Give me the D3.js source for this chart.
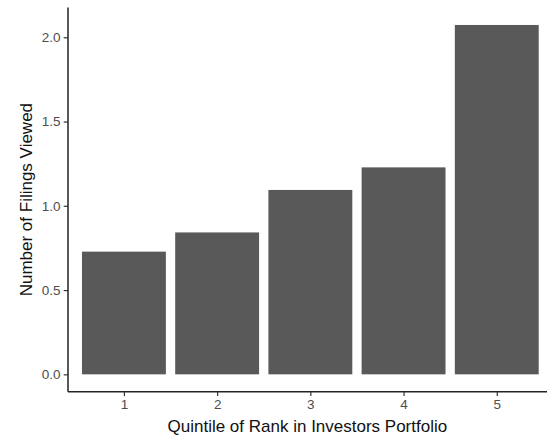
<!DOCTYPE html>
<html>
<head>
<meta charset="utf-8">
<script src="https://cdn.jsdelivr.net/npm/d3@7"></script>
<style>
  body { margin: 0; background: #fff; }
  svg { display: block; font-family: "Liberation Sans", Arial, sans-serif; }
</style>
</head>
<body>
<div id="chart"></div>
<script>
// data
var quintiles = ['1', '2', '3', '4', '5'];
var filingsViewed = [0.728, 0.842, 1.094, 1.228, 2.073];
var yTicks = [0.0, 0.5, 1.0, 1.5, 2.0];

var W = 547, H = 437;
// panel edges in pixels
var panel = { left: 68, top: 7.5, bottom: 391.8, right: 552.7 };

var svg = d3.select('#chart')
  .append('svg')
  .attr('width', W)
  .attr('height', H);

// ggplot-like discrete scale: 0.6 units of padding each side
var x = d3.scaleLinear()
  .domain([0.4, 5.6])
  .range([panel.left, panel.right]);

var yMax = d3.max(filingsViewed);
var y = d3.scaleLinear()
  .domain([-0.05 * yMax, yMax * 1.05])
  .range([panel.bottom, panel.top]);

var barW = x(1.45) - x(0.55);

// bars
svg.append('g')
  .selectAll('rect')
  .data(filingsViewed)
  .enter()
  .append('rect')
  .attr('x', function (d, i) { return x(i + 1) - barW / 2; })
  .attr('width', barW)
  .attr('y', function (d) { return y(d); })
  .attr('height', function (d) { return y(0) - y(d); })
  .attr('fill', '#595959');

// y axis
var yAxis = svg.append('g')
  .attr('transform', 'translate(' + panel.left + ',0)')
  .call(d3.axisLeft(y)
    .tickValues(yTicks)
    .tickFormat(d3.format('.1f'))
    .tickSize(4.3)
    .tickPadding(3.2));

// x axis
var xAxis = svg.append('g')
  .attr('transform', 'translate(0,' + panel.bottom + ')')
  .call(d3.axisBottom(x)
    .tickValues([1, 2, 3, 4, 5])
    .tickFormat(function (d) { return quintiles[d - 1]; })
    .tickSize(4.3)
    .tickPadding(3.4));

[yAxis, xAxis].forEach(function (a) {
  a.attr('font-size', 13.5)
    .attr('font-family', '"Liberation Sans", Arial, sans-serif');
  a.select('.domain')
    .attr('stroke', '#222')
    .attr('stroke-width', 1.5);
  a.selectAll('.tick line')
    .attr('stroke', '#333')
    .attr('stroke-width', 1.2);
  a.selectAll('.tick text')
    .attr('fill', '#4d4d4d');
});
// domain lines without the outer tick ends
yAxis.select('.domain').attr('d', 'M0,' + panel.top + 'V' + panel.bottom);
xAxis.select('.domain').attr('d', 'M' + panel.left + ',0H' + panel.right);

// axis titles
svg.append('text')
  .attr('x', (panel.left + panel.right) / 2 - 3)
  .attr('y', 432)
  .attr('text-anchor', 'middle')
  .style('font-size', '17px')
  .attr('fill', '#111')
  .text('Quintile of Rank in Investors Portfolio');

svg.append('text')
  .attr('transform', 'translate(32,' + (panel.top + panel.bottom) / 2 + ') rotate(-90)')
  .attr('text-anchor', 'middle')
  .style('font-size', '17px')
  .attr('fill', '#111')
  .text('Number of Filings Viewed');
</script>
</body>
</html>
